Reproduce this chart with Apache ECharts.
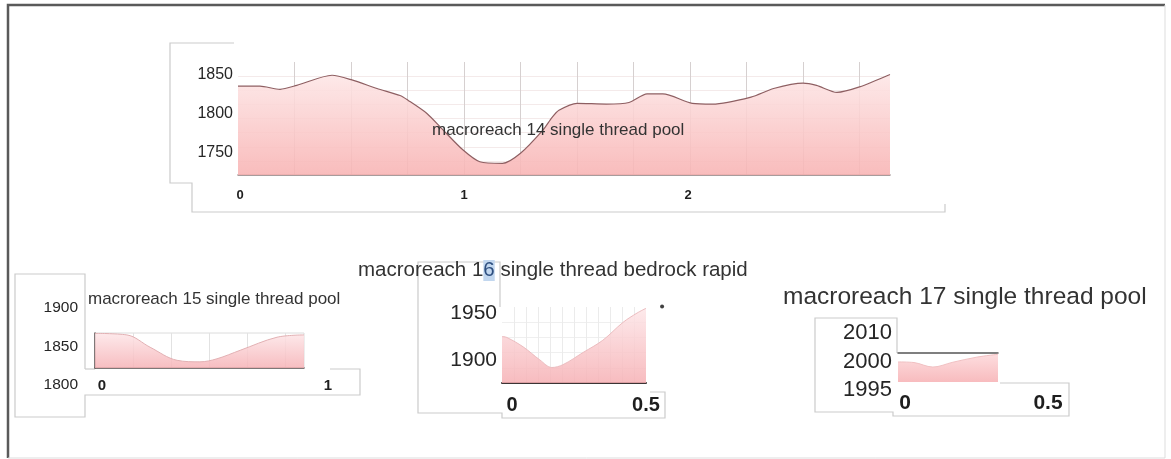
<!DOCTYPE html>
<html><head><meta charset="utf-8">
<script src="https://cdn.jsdelivr.net/npm/echarts@6/dist/echarts.min.js"></script>
<style>html,body{margin:0;padding:0;background:#fff}#c{width:1171px;height:459px}</style>
</head><body><div id="c"></div>
<script>
// ---- data ----
const titleTexts = [
  'macroreach 14 single thread pool',
  'macroreach 15 single thread pool',
  'macroreach 1{hl|6} single thread bedrock rapid',
  'macroreach 17 single thread pool'
];
const c14X = [0,0.097,0.186,0.26,0.416,0.504,0.615,0.717,0.752,0.836,0.907,0.996,1.07,1.17,1.25,1.35,1.39,1.42,1.5,1.63,1.73,1.81,1.88,2.01,2.10,2.27,2.37,2.5,2.56,2.65,2.75,2.885];
const c14Y = [1836,1836,1832,1837,1850,1844,1833,1824,1818,1801,1780,1754,1739,1737,1750,1780,1796,1805,1814,1813,1815,1826,1826,1814,1813,1822,1833,1840,1837,1828,1835,1851];
const c14XTicks = [0,1,2];
const c14YTicks = [1750,1800,1850];

const c15X = [0,0.084,0.145,0.216,0.276,0.321,0.382,0.479,0.55];
const c15Y = [1869,1867,1851,1834,1832,1836,1847,1864,1867];
const c15XTicks = [0,1];
const c15YTicks = [1800,1850,1900];

const c16X = [0,0.02,0.088,0.158,0.208,0.254,0.338,0.42,0.504,0.563,0.6];
const c16Y = [1925,1924,1914,1900,1892,1895,1908,1921,1940,1950,1955];
const c16XTicks = [0,0.5];
const c16YTicks = [1900,1950];
const c16Dot = [[0.56,1957]];

const c17X = [0,0.056,0.122,0.192,0.276,0.35];
const c17Y = [2001,2000.8,1999.4,2000.9,2002.5,2003.4];
const c17XTicks = [0,0.5];
const c17YTicks = ['1995','2000','2010'];

// ---- building ----
const FONT = "'Liberation Sans', Arial, Helvetica, sans-serif";
const plain = v => String(v);
const grids = [], xAxes = [], yAxes = [], series = [];
const pair = (X, Y) => X.map((x, i) => [x, Y[i]]);
function grad(top, bottom) {
  return new echarts.graphic.LinearGradient(0, 0, 0, 1, [{offset:0,color:top},{offset:1,color:bottom}]);
}
function plot(c) {
  const gi = grids.length;
  grids.push({left:c.left, top:c.top, width:c.width, height:c.height, show:!!c.border, borderColor:c.border||'#ddd', borderWidth:1, backgroundColor:'transparent'});
  xAxes.push({gridIndex:gi, type:'value', min:c.xmin, max:c.xmax, interval:c.xint, position:c.xpos||'bottom',
    axisLine:{show:!!c.xline, lineStyle:{color:c.xline||'#000', width:c.xlineW||1.5}},
    axisTick:{show:false}, axisLabel:{show:false},
    splitLine:{show:!!c.vgrid, showMinLine:false, showMaxLine:false, lineStyle:{color:c.vgrid||'#ddd', width:1}}});
  yAxes.push({gridIndex:gi, type:'value', min:c.ymin, max:c.ymax, interval:c.yint,
    axisLine:{show:!!c.yline, lineStyle:{color:c.yline||'#000', width:1.5}},
    axisTick:{show:false}, axisLabel:{show:false},
    splitLine:{show:!!c.hgrid, showMinLine:false, showMaxLine:false, lineStyle:{color:c.hgrid||'#eee', width:1}}});
  series.push({type:'line', xAxisIndex:gi, yAxisIndex:gi, data:pair(c.X, c.Y), showSymbol:false, smooth:c.smooth||false,
    lineStyle:{color:c.lineColor, width:c.lineW||1.2}, areaStyle:{color:grad(c.fillTop, c.fillBottom), opacity:c.fillOpacity||0.85}, z:2});
}
function labels(c) {
  const gi = grids.length;
  grids.push({left:c.left, top:c.top, width:c.width, height:c.height, show:false});
  xAxes.push({gridIndex:gi, type:'value', min:c.xTicks[0], max:c.xTicks[c.xTicks.length-1], interval:c.xTicks[1]-c.xTicks[0],
    axisLine:{show:false}, axisTick:{show:false}, splitLine:{show:false},
    axisLabel:{show:true, formatter:plain, margin:c.xMargin, verticalAlign:'middle', fontSize:c.xFont, fontWeight:'bold', color:'#1e1e1e', fontFamily:FONT}});
  if (c.yCat) {
    yAxes.push({gridIndex:gi, type:'category', data:c.yTicks, boundaryGap:false,
      axisLine:{show:false}, axisTick:{show:false}, splitLine:{show:false},
      axisLabel:{show:true, interval:0, hideOverlap:false, margin:c.yMargin, fontSize:c.yFont, color:'#262626', fontFamily:FONT}});
  } else {
    yAxes.push({gridIndex:gi, type:'value', min:c.yTicks[0], max:c.yTicks[c.yTicks.length-1], interval:c.yTicks[1]-c.yTicks[0],
      axisLine:{show:false}, axisTick:{show:false}, splitLine:{show:false},
      axisLabel:{show:true, formatter:plain, margin:c.yMargin, fontSize:c.yFont, color:'#262626', fontFamily:FONT}});
  }
  return gi;
}

// chart 14
plot({left:238, top:62, width:652, height:113, xmin:0, xmax:2.885, xint:0.25, ymin:1722, ymax:1867, yint:18.125,
  X:c14X, Y:c14Y, xline:'#8c7c7c', xlineW:1.5, vgrid:'#d6d0d0', hgrid:'#f4eaea',
  lineColor:'#8e5f62', lineW:1.2, fillTop:'#fde6e6', fillBottom:'#f8b3b3', fillOpacity:0.88, smooth:0.25});
labels({left:240, top:75, width:448, height:78, xTicks:c14XTicks, yTicks:c14YTicks, xMargin:42, yMargin:7, xFont:13, yFont:16});

// chart 15
plot({left:95, top:333, width:209, height:35, xmin:0, xmax:0.55, xint:0.1, ymin:1824, ymax:1869.5, yint:45.5,
  X:c15X, Y:c15Y, xline:'#5a5050', yline:'#5a5050', vgrid:'#e2e2e2', border:'#dcdcdc',
  lineColor:'#e2b0b3', lineW:1, fillTop:'#fde5e7', fillBottom:'#f6b2b6', smooth:0.35, fillOpacity:0.85});
labels({left:102, top:308, width:226, height:77, xTicks:c15XTicks, yTicks:c15YTicks, xMargin:1, yMargin:24, xFont:15, yFont:15.5});

// chart 16
plot({left:502, top:307, width:144, height:76, xmin:0, xmax:0.6, xint:0.05, ymin:1875.5, ymax:1956.4, yint:16.18,
  X:c16X, Y:c16Y, xline:'#3c3434', xlineW:2, vgrid:'#ebebeb', hgrid:'#efefef',
  lineColor:'#ecbcbf', lineW:1, fillTop:'#fde6e8', fillBottom:'#f6b0b4', smooth:0.35, fillOpacity:0.85});
const g16 = labels({left:512, top:313, width:134, height:47, xTicks:c16XTicks, yTicks:c16YTicks, xMargin:45, yMargin:15, xFont:20, yFont:21});
series.push({type:'scatter', xAxisIndex:g16, yAxisIndex:g16, data:c16Dot, symbolSize:4, itemStyle:{color:'#111'}, clip:false, silent:true});

// chart 17
plot({left:898, top:353, width:100, height:29, xmin:0, xmax:0.35, xint:0.35, ymin:1994.7, ymax:2003.8, yint:9.1,
  X:c17X, Y:c17Y, xpos:'top', xline:'#555', xlineW:1.5,
  lineColor:'#f1c0c2', lineW:1, fillTop:'#fdd9db', fillBottom:'#f7b4b7', smooth:0.35, fillOpacity:0.9});
labels({left:905, top:333, width:143, height:57, xTicks:c17XTicks, yTicks:c17YTicks, yCat:true, xMargin:13, yMargin:13, xFont:21, yFont:22});

const boxStyle = {stroke:'#cbcbcb', fill:null, lineWidth:1.2};
const pl = (pts, style) => ({type:'polyline', silent:true, shape:{points:pts}, style:Object.assign({}, boxStyle, style||{}), z:-1});

const option = {
  backgroundColor:'#ffffff',
  animation:false,
  title:[
    {text:titleTexts[0], left:432, top:121, padding:0, textStyle:{fontSize:17, lineHeight:19, fontWeight:'normal', color:'#333', fontFamily:FONT}, z:5},
    {text:titleTexts[1], left:88, top:290, padding:0, textStyle:{fontSize:17, lineHeight:19, fontWeight:'normal', color:'#333', fontFamily:FONT}},
    {text:titleTexts[2], left:358, top:259, padding:0, textStyle:{fontSize:20.5, lineHeight:23, fontWeight:'normal', color:'#333', fontFamily:FONT,
      rich:{hl:{fontSize:20.5, lineHeight:23, backgroundColor:'#c2d7ef', color:'#2e4f7f', fontFamily:FONT}}}},
    {text:titleTexts[3], left:783, top:284, padding:0, textStyle:{fontSize:24.5, lineHeight:27, fontWeight:'normal', color:'#333', fontFamily:FONT}}
  ],
  grid:grids, xAxis:xAxes, yAxis:yAxes, series:series,
  graphic:[
    pl([[8,458],[8,5],[1165,5]], {stroke:'#5a5a5a', lineWidth:2.5}),
    pl([[1165,5],[1165,458],[8,458]], {stroke:'#dddddd', lineWidth:1}),
    pl([[234,43],[170,43],[170,183],[192,183],[192,212],[945,212],[945,204]]),
    pl([[85,369],[85,274],[15,274],[15,417],[85,417],[85,395],[360,395],[360,369],[330,369]]),
    pl([[85,369],[95,369]]),
    pl([[500,307],[500,262],[418,262],[418,413],[502,413],[502,418],[665,418],[665,392],[650,392]]),
    pl([[897,353],[897,318],[815,318],[815,412],[893,412],[893,416],[1069,416],[1069,383],[1000,383]])
  ]
};
const chart = echarts.init(document.getElementById('c'), null, {renderer:'canvas'});
chart.setOption(option);
</script></body></html>
